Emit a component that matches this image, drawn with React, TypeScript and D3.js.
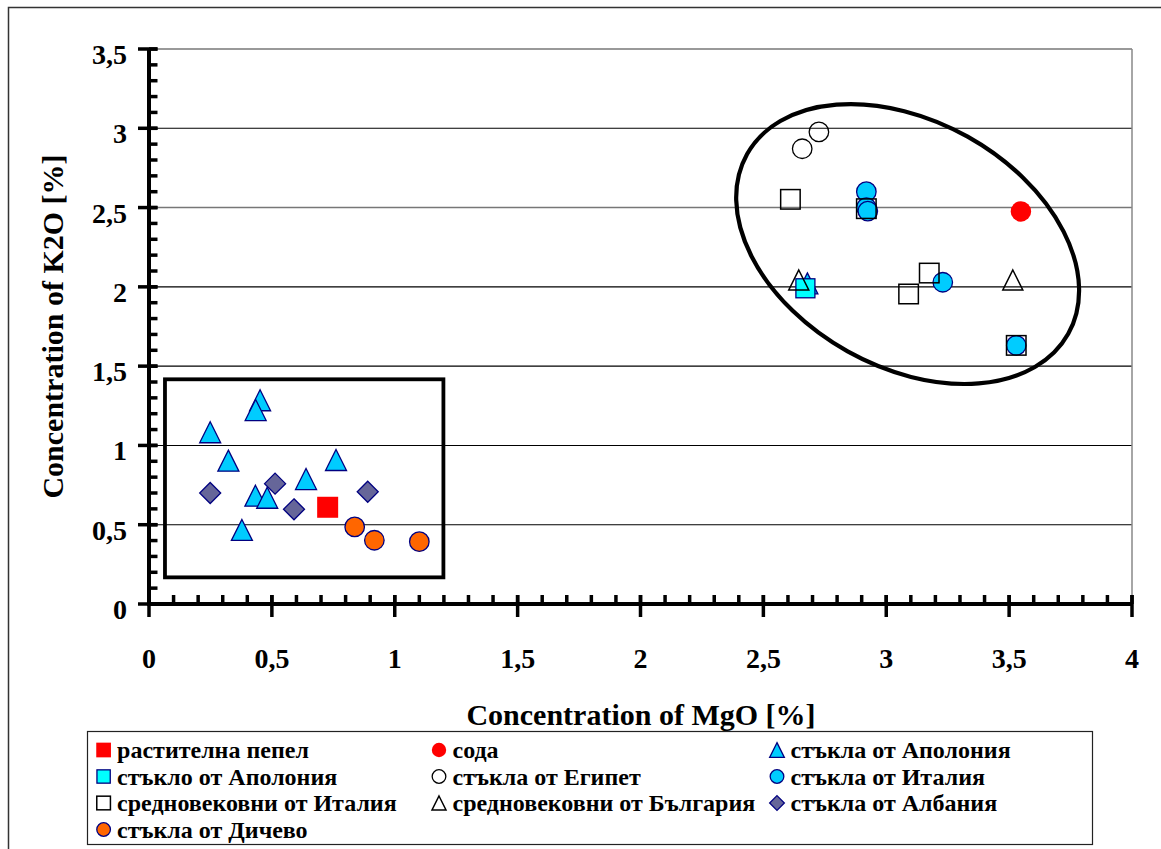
import React from 'react';
import * as d3 from 'd3';

// ---- data ----
const X_TICKS = [0, 0.5, 1, 1.5, 2, 2.5, 3, 3.5, 4];
const Y_TICKS = [0, 0.5, 1, 1.5, 2, 2.5, 3, 3.5];
const GRID_Y = [0.5, 1, 1.5, 2, 2.5, 3, 3.5];

const plantAsh: [number, number][] = [[0.727, 0.61]];
const soda: [number, number][] = [[3.548, 2.476]];
const apoloniaGlasses: [number, number][] = [
  [0.452, 1.285], [0.434, 1.223], [0.249, 1.083], [0.323, 0.904], [0.761, 0.908],
  [0.639, 0.788], [0.433, 0.683], [0.481, 0.67], [0.378, 0.467], [2.679, 2.022],
];
const apoloniaGlass: [number, number][] = [[2.671, 1.991]];
const egyptGlasses: [number, number][] = [[2.726, 2.977], [2.658, 2.871]];
const italyGlasses: [number, number][] = [
  [2.919, 2.6], [2.919, 2.5], [2.925, 2.478], [3.23, 2.029], [3.529, 1.631],
];
const medievalItaly: [number, number][] = [
  [2.61, 2.552], [2.919, 2.493], [3.175, 2.087], [3.091, 1.955], [3.529, 1.631],
];
const medievalBulgaria: [number, number][] = [[2.644, 2.043], [3.515, 2.043]];
const albaniaGlasses: [number, number][] = [
  [0.249, 0.7], [0.513, 0.759], [0.59, 0.597], [0.89, 0.708],
];
const dichevoGlasses: [number, number][] = [[0.837, 0.486], [0.917, 0.402], [1.1, 0.393]];

const LABELS = [
  'растителна пепел', 'сода', 'стъкла от Аполония',
  'стъкло от Аполония', 'стъкла от Египет', 'стъкла от Италия',
  'средновековни от Италия', 'средновековни от България', 'стъкла от Албания',
  'стъкла от Дичево',
];

// annotation shapes (data coords for anchors)
const BOX = { x0: 0.065, x1: 1.198, y0: 0.168, y1: 1.417 };
const ELLIPSE = { cx: 3.087, cy: 2.27 };

type Shape = 'square' | 'circle' | 'triangle' | 'diamond';
interface Style { shape: Shape; fill: string; stroke: string; sw: number; size: number; }

const SERIES: { data: [number, number][]; style: Style }[] = [
  { data: plantAsh, style: { shape: 'square', fill: '#FF0000', stroke: 'none', sw: 0, size: 21 } },
  { data: soda, style: { shape: 'circle', fill: '#FF0000', stroke: 'none', sw: 0, size: 20.5 } },
  { data: apoloniaGlasses, style: { shape: 'triangle', fill: '#00CCFF', stroke: '#000080', sw: 1.3, size: 21 } },
  { data: apoloniaGlass, style: { shape: 'square', fill: '#00FFFF', stroke: '#000080', sw: 1.3, size: 19 } },
  { data: egyptGlasses, style: { shape: 'circle', fill: 'none', stroke: '#000', sw: 1.3, size: 19.5 } },
  { data: italyGlasses, style: { shape: 'circle', fill: '#00CCFF', stroke: '#000080', sw: 1.3, size: 19.5 } },
  { data: medievalItaly, style: { shape: 'square', fill: 'none', stroke: '#000', sw: 1.5, size: 19.5 } },
  { data: medievalBulgaria, style: { shape: 'triangle', fill: 'none', stroke: '#000', sw: 1.5, size: 20 } },
  { data: albaniaGlasses, style: { shape: 'diamond', fill: '#666699', stroke: '#000080', sw: 1.3, size: 21 } },
  { data: dichevoGlasses, style: { shape: 'circle', fill: '#FF6600', stroke: '#000080', sw: 1.3, size: 19.5 } },
];

function Marker({ cx, cy, st, scale = 1 }: { cx: number; cy: number; st: Style; scale?: number }) {
  const s = st.size * scale;
  const h = s / 2;
  const common = { fill: st.fill, stroke: st.stroke, strokeWidth: st.sw };
  if (st.shape === 'circle') return <circle cx={cx} cy={cy} r={h} {...common} />;
  if (st.shape === 'square') return <rect x={cx - h} y={cy - h} width={s} height={s} {...common} />;
  if (st.shape === 'triangle')
    return <path d={`M${cx},${cy - h}L${cx + h},${cy + h}L${cx - h},${cy + h}Z`} {...common} strokeLinejoin="miter" />;
  return <path d={`M${cx},${cy - h}L${cx + h},${cy}L${cx},${cy + h}L${cx - h},${cy}Z`} {...common} />;
}

const fmt = (v: number) => String(v).replace('.', ',');

export default function App() {
  const W = 1161, H = 849;
  const x = d3.scaleLinear().domain([0, 4]).range([149, 1132]);
  const y = d3.scaleLinear().domain([0, 3.5]).range([604, 49]);
  const minorX = d3.range(0, 40.5, 1).map((i) => i / 10);
  const minorY = d3.range(0, 35.5, 1).map((i) => i / 10);
  const FONT = "'Liberation Serif', Tinos, 'Times New Roman', Times, 'DejaVu Serif', serif";

  const legendColX = [103.6, 439, 777];
  const legendRowY = [750, 776.5, 803, 829.5];
  const txt = { fontFamily: FONT, fontWeight: 700 } as React.CSSProperties;

  return (
    <svg width={W} height={H} style={{ position: 'absolute', left: 0, top: 0, background: '#fff' }}>
      <rect x={0} y={0} width={W} height={H} fill="#fff" />
      {/* outer chart border */}
      <rect x={8.5} y={7.5} width={1170} height={870} fill="none" stroke="#333" strokeWidth={1.5} />

      {/* gridlines */}
      {GRID_Y.map((v) => (
        <line key={v} x1={x(0)} x2={x(4)} y1={y(v)} y2={y(v)}
          stroke={v === 3.5 || v === 2.5 ? '#777' : '#000'} strokeWidth={v === 3.5 || v === 2.5 ? 1.6 : 1.1} />
      ))}
      {/* plot area right border */}
      <line x1={x(4)} x2={x(4)} y1={y(3.5)} y2={y(0)} stroke="#888" strokeWidth={1.5} />

      {/* annotation: rectangle */}
      <rect x={x(BOX.x0)} y={y(BOX.y1)} width={x(BOX.x1) - x(BOX.x0)} height={y(BOX.y0) - y(BOX.y1)}
        fill="none" stroke="#000" strokeWidth={3.8} />
      {/* annotation: ellipse */}
      <ellipse cx={0} cy={0} rx={184} ry={123} fill="none" stroke="#000" strokeWidth={4.2}
        transform={`translate(${x(ELLIPSE.cx)},${y(ELLIPSE.cy)}) rotate(29.2)`} />

      {/* axes */}
      <line x1={x(0)} x2={x(4)} y1={y(0)} y2={y(0)} stroke="#000" strokeWidth={4} />
      <line x1={x(0)} x2={x(0)} y1={y(0) + 2} y2={y(3.5)} stroke="#000" strokeWidth={4} />
      {minorX.map((v) => (
        <line key={'mx' + v} x1={x(v)} x2={x(v)} y1={y(0) - 9} y2={y(0)} stroke="#000" strokeWidth={3.5} />
      ))}
      {X_TICKS.map((v) => (
        <line key={'Mx' + v} x1={x(v)} x2={x(v)} y1={y(0) - 9} y2={y(0) + 13} stroke="#000" strokeWidth={3.5} />
      ))}
      {minorY.map((v) => (
        <line key={'my' + v} x1={x(0)} x2={x(0) + 8.5} y1={y(v)} y2={y(v)} stroke="#000" strokeWidth={3.5} />
      ))}
      {Y_TICKS.map((v) => (
        <line key={'My' + v} x1={x(0) - 11} x2={x(0) + 8.5} y1={y(v)} y2={y(v)} stroke="#000" strokeWidth={3.5} />
      ))}

      {/* tick labels */}
      {X_TICKS.map((v) => (
        <text key={'tx' + v} x={x(v)} y={668} textAnchor="middle" fontSize={28} style={txt}>{fmt(v)}</text>
      ))}
      {Y_TICKS.map((v) => (
        <text key={'ty' + v} x={127} y={y(v) + 15} textAnchor="end" fontSize={28} style={txt}>{fmt(v)}</text>
      ))}

      {/* axis titles */}
      <text x={641} y={725} textAnchor="middle" fontSize={30} style={txt}>Concentration of MgO [%]</text>
      <text transform={`translate(63,${(y(0) + y(3.5)) / 2}) rotate(-90)`} textAnchor="middle" fontSize={30} style={txt}>
        Concentration of K2O [%]
      </text>

      {/* points */}
      {SERIES.map((s, i) => (
        <g key={'s' + i}>
          {s.data.map(([dx, dy], j) => (
            <Marker key={j} cx={x(dx)} cy={y(dy)} st={s.style} />
          ))}
        </g>
      ))}

      {/* legend */}
      <rect x={87.5} y={731.5} width={1005} height={113} fill="#fff" stroke="#222" strokeWidth={1.2} />
      {SERIES.map((s, i) => {
        const col = i % 3;
        const row = Math.floor(i / 3);
        const cx = legendColX[col];
        const cy = legendRowY[row];
        return (
          <g key={'lg' + i}>
            <Marker cx={cx} cy={cy} st={s.style} scale={0.7} />
            <text x={cx + 13.5} y={cy + 8} fontSize={24} style={txt}>{LABELS[i]}</text>
          </g>
        );
      })}
    </svg>
  );
}
